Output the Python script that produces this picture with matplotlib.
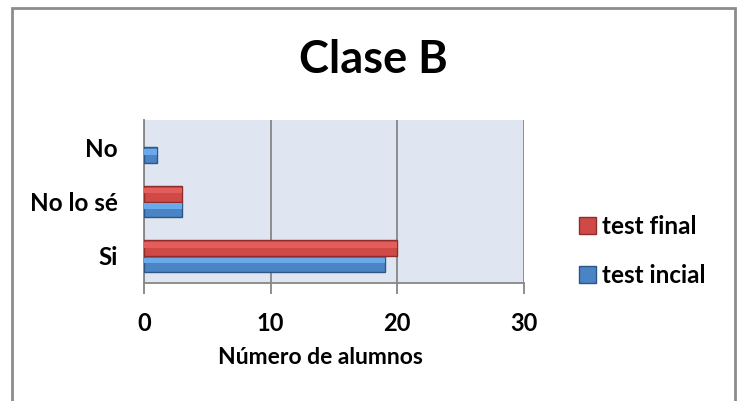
import matplotlib
matplotlib.use("Agg")
import matplotlib.pyplot as plt
import numpy as np
from matplotlib.patches import Rectangle

categories = ["Si", "No lo sé", "No"]
series_names = ["test incial", "test final"]
test_inicial = [19, 3, 1]
test_final = [20, 3, 0]
x_ticks = [0, 10, 20, 30]
title = "Clase B"
xlabel = "Número de alumnos"

plt.rcParams['font.family'] = ['Lato', 'DejaVu Sans']
plt.rcParams['font.weight'] = 'bold'

W, H = 739, 401
fig = plt.figure(figsize=(W / 100, H / 100), dpi=100)
fig.patch.set_facecolor('white')

# outer chart border
fig.add_artist(Rectangle((12 / W, -0.05), (735 - 12) / W, 1 - 8 / H + 0.05,
                         transform=fig.transFigure, fill=False,
                         edgecolor='#8c8c8c', linewidth=2.0))

ax = fig.add_axes([144 / W, 1 - 283 / H, (524 - 144) / W, (283 - 120) / H])
ax.set_facecolor('#dfe6f1')

y = np.arange(len(categories))
h = 0.29
blue_light = '#6aa9ea'
red_light = '#e35d5a'

def edges(vals, c):
    return [c if v > 0 else 'none' for v in vals]

# base bars
ax.barh(y - h / 2, test_inicial, height=h, color='#4a84c4',
        edgecolor=edges(test_inicial, '#2d5684'),
        linewidth=1.0, zorder=3, label=series_names[0])
ax.barh(y + h / 2, test_final, height=h, color='#cf4a47',
        edgecolor=edges(test_final, '#8e2d2b'),
        linewidth=1.0, zorder=3, label=series_names[1])
# bevel highlights (upper light stripe)
ax.barh(y - h / 2 + h * 0.2, test_inicial, height=h * 0.35, color=blue_light,
        linewidth=0, zorder=4)
ax.barh(y + h / 2 + h * 0.2, test_final, height=h * 0.35, color=red_light,
        linewidth=0, zorder=4)

ax.set_xlim(0, 30)
ax.set_ylim(-0.5, len(categories) - 0.5)
ax.set_xticks(x_ticks)
ax.set_xticklabels([str(t) for t in x_ticks], fontsize=17, fontweight='bold')
ax.set_yticks(y)
ax.set_yticklabels(categories, fontsize=17.5, fontweight='bold')
ax.grid(axis='x', color='#868686', linewidth=1.3, zorder=1)
ax.set_axisbelow(True)

for s in ['top', 'right']:
    ax.spines[s].set_visible(False)
for s in ['left', 'bottom']:
    ax.spines[s].set_color('#868686')
    ax.spines[s].set_linewidth(1.3)
ax.tick_params(axis='x', length=8, width=1.3, color='#868686', pad=13)
ax.tick_params(axis='y', length=0, pad=19)

ax.set_xlabel(xlabel, fontsize=16.5, fontweight='bold')
ax.xaxis.set_label_coords((320 - 144) / 380, -0.395)

fig.text(373 / W, 1 - 60 / H, title, fontsize=32.5, fontweight='bold',
         ha='center', va='center')

handles, labels = ax.get_legend_handles_labels()
leg = fig.legend(handles[::-1], labels[::-1], loc='center left',
                 bbox_to_anchor=(557 / W, 1 - 251 / H), frameon=False,
                 prop={'size': 17.5, 'weight': 'bold'}, handlelength=0.7,
                 handleheight=0.7, handletextpad=0.25, labelspacing=1.05)

fig.savefig('out.png', dpi=100)
